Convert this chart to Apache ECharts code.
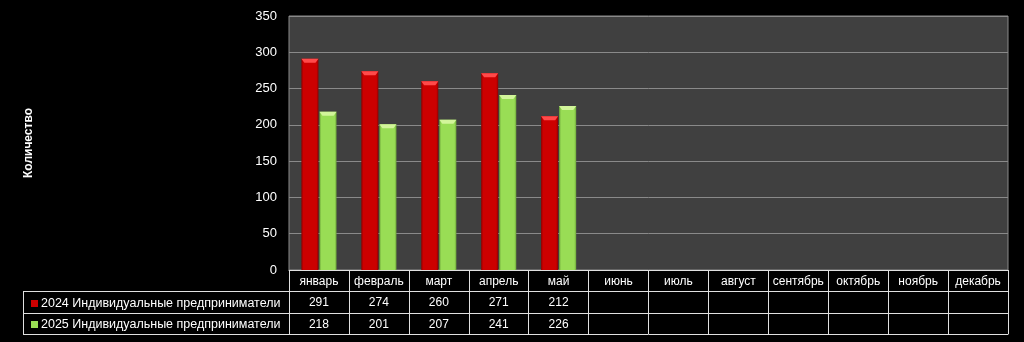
<!DOCTYPE html>
<html>
<head>
<meta charset="utf-8">
<script src="https://cdn.jsdelivr.net/npm/echarts@6/dist/echarts.min.js"></script>
<style>
html,body{margin:0;padding:0;background:#000;}
#c{width:1024px;height:342px;}
</style>
</head>
<body>
<div id="c"></div>
<script>
const categories = ['январь','февраль','март','апрель','май','июнь','июль','август','сентябрь','октябрь','ноябрь','декабрь'];
const seriesNames = ['2024 Индивидуальные предприниматели','2025 Индивидуальные предприниматели'];
const values2024 = [291, 274, 260, 271, 212];
const values2025 = [218, 201, 207, 241, 226];
const yTicks = [0, 50, 100, 150, 200, 250, 300, 350];
const yTitle = 'Количество';

const palette = [
  {base:'#cc0000', dark:'#8c0000', light:'#ff4a4a'},
  {base:'#99dd55', dark:'#6ea83a', light:'#d2f59a'}
];

function renderBar(si){
  return function(params, api){
    const idx = api.value(0), v = api.value(1);
    const top = api.coord([idx, v]);
    const base = api.coord([idx, 0]);
    const cw = api.size([1, 0])[0];
    const bw = cw * 0.285;
    const x = si === 0 ? top[0] - bw - 0.5 : top[0] + 0.5;
    const p = palette[si];
    const h = base[1] - top[1];
    const bev = Math.min(4, h);
    return {type:'group', children:[
      {type:'rect', shape:{x:x, y:top[1], width:bw, height:h},
       style:{fill:new echarts.graphic.LinearGradient(0,0,1,0,[
         {offset:0,color:p.dark},{offset:0.12,color:p.base},{offset:0.88,color:p.base},{offset:1,color:p.dark}])}},
      {type:'polygon', shape:{points:[[x,top[1]],[x+bw,top[1]],[x+bw-3,top[1]+bev],[x+3,top[1]+bev]]},
       style:{fill:p.light}}
    ]};
  };
}

const tableFont = {color:'#ffffff', fontFamily:'Liberation Sans', fontSize:12};
const chart = echarts.init(document.getElementById('c'));
chart.setOption({
  backgroundColor:'#000000',
  animation:false,
  grid:{left:289, right:16, top:16, bottom:72, show:true, backgroundColor:'#404040', borderColor:'#8a8a8a', borderWidth:1},
  legend:{
    orient:'vertical', left:26, top:292, itemGap:8, itemWidth:7, itemHeight:7,
    icon:'rect', selectedMode:false,
    textStyle:{color:'#ffffff', fontFamily:'Liberation Sans', fontSize:12.5, padding:[0,0,0,-2]},
    data:seriesNames
  },
  xAxis:[
    {type:'category', data:categories, position:'bottom', offset:0,
     axisLine:{lineStyle:{color:'#e0e0e0', width:1}},
     axisTick:{show:true, interval:0, length:64, lineStyle:{color:'#e0e0e0'}},
     axisLabel:Object.assign({interval:0, margin:6}, tableFont)},
    {type:'category', data:categories, position:'bottom', offset:21,
     axisLine:{lineStyle:{color:'#e0e0e0', width:1}}, axisTick:{show:false},
     axisLabel:Object.assign({interval:0, margin:6, formatter:(v,i)=> values2024[i] != null ? String(values2024[i]) : ''}, tableFont)},
    {type:'category', data:categories, position:'bottom', offset:43,
     axisLine:{lineStyle:{color:'#e0e0e0', width:1}}, axisTick:{show:false},
     axisLabel:Object.assign({interval:0, margin:6, formatter:(v,i)=> values2025[i] != null ? String(values2025[i]) : ''}, tableFont)},
    {type:'category', data:categories, position:'bottom', offset:64,
     axisLine:{lineStyle:{color:'#e0e0e0', width:1}}, axisTick:{show:false}, axisLabel:{show:false}}
  ],
  yAxis:{
    type:'value', min:yTicks[0], max:yTicks[yTicks.length-1], interval:50,
    name:yTitle, nameLocation:'middle', nameGap:254, nameRotate:90,
    nameTextStyle:{color:'#ffffff', fontFamily:'Liberation Sans', fontWeight:'bold', fontSize:12},
    axisLine:{show:false}, axisTick:{show:false},
    axisLabel:{color:'#ffffff', fontFamily:'Liberation Sans', fontSize:13, margin:12},
    splitLine:{lineStyle:{color:'#8a8a8a', width:1}}
  },
  series:[
    {name:seriesNames[0], type:'custom', xAxisIndex:0, itemStyle:{color:palette[0].base},
     renderItem:renderBar(0), encode:{x:0,y:1},
     data:values2024.map((v,i)=>[i,v])},
    {name:seriesNames[1], type:'custom', xAxisIndex:0, itemStyle:{color:palette[1].base},
     renderItem:renderBar(1), encode:{x:0,y:1},
     data:values2025.map((v,i)=>[i,v])}
  ],
  graphic:[
    {type:'line', shape:{x1:23, y1:291.5, x2:289, y2:291.5}, style:{stroke:'#e0e0e0', lineWidth:1}},
    {type:'line', shape:{x1:23, y1:313.5, x2:289, y2:313.5}, style:{stroke:'#e0e0e0', lineWidth:1}},
    {type:'line', shape:{x1:23, y1:334.5, x2:289, y2:334.5}, style:{stroke:'#e0e0e0', lineWidth:1}},
    {type:'line', shape:{x1:23.5, y1:291, x2:23.5, y2:335}, style:{stroke:'#e0e0e0', lineWidth:1}}
  ]
});
</script>
</body>
</html>
